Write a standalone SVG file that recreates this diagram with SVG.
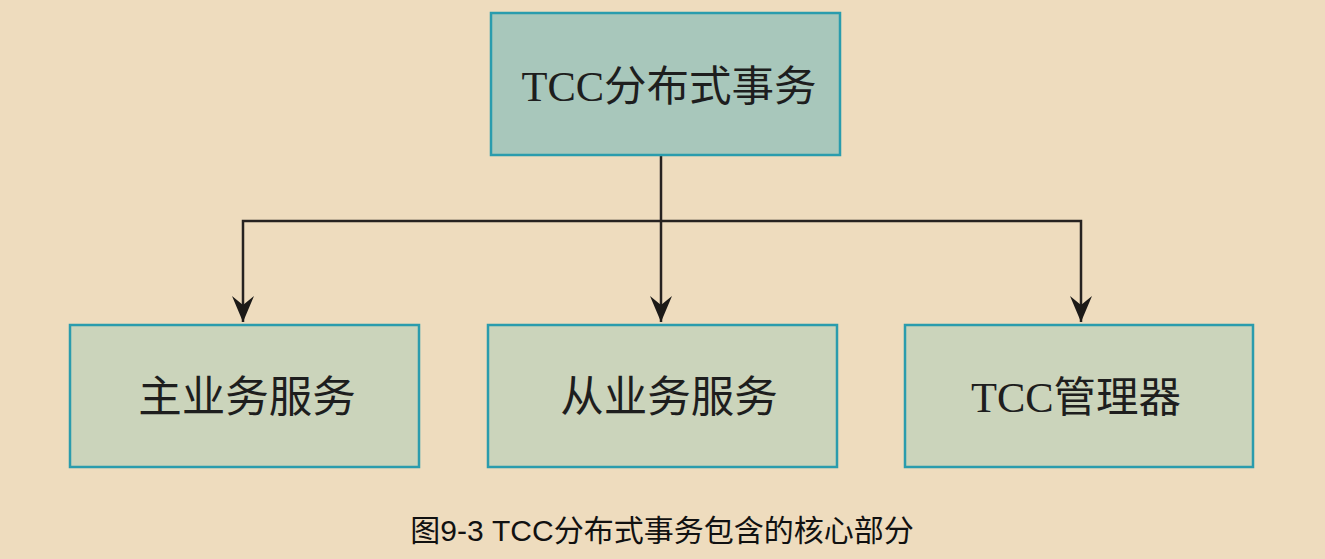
<svg xmlns="http://www.w3.org/2000/svg" width="1325" height="559" viewBox="0 0 1325 559">
<defs>
<style>
.box{stroke:#2a9cad;stroke-width:2.5}
.top{fill:#a8c7bb}
.sub{fill:#cbd4bb}
.lbl{font-family:"Liberation Serif","Noto Sans CJK SC",serif;fill:#1e1e1e;text-anchor:middle}
.cap{font-family:"Liberation Sans","Noto Sans CJK SC",sans-serif;font-size:30px;fill:#111;text-anchor:middle}
.con{fill:none;stroke:#262220;stroke-width:2.5}
</style>
<marker id="ah" viewBox="0 0 26 22" refX="26" refY="11" markerWidth="26" markerHeight="22" markerUnits="userSpaceOnUse" orient="auto">
<path d="M26 11 L0 0 L9 11 L0 22 Z" fill="#1c1a18"/>
</marker>
</defs>
<rect width="1325" height="559" fill="#eedcbe"/>
<g id="connectors">
<path class="con" d="M661 155 V322" marker-end="url(#ah)"/>
<path class="con" d="M661 221 H243 V322" marker-end="url(#ah)"/>
<path class="con" d="M661 221 H1081 V322" marker-end="url(#ah)"/>
</g>
<g id="tcc">
<rect class="box top" x="491" y="13" width="349" height="142"/>
<text class="lbl" x="669" y="101" font-size="42.5">TCC分布式事务</text>
</g>
<g id="main">
<rect class="box sub" x="70" y="325" width="349" height="142"/>
<text class="lbl" x="247" y="412" font-size="43.5">主业务服务</text>
</g>
<g id="slave">
<rect class="box sub" x="488" y="325" width="349" height="142"/>
<text class="lbl" x="669" y="412" font-size="43.5">从业务服务</text>
</g>
<g id="manager">
<rect class="box sub" x="905" y="325" width="348" height="142"/>
<text class="lbl" x="1076" y="412" font-size="42.5">TCC管理器</text>
</g>
<text class="cap" x="662" y="541">图9-3 TCC分布式事务包含的核心部分</text>
</svg>
